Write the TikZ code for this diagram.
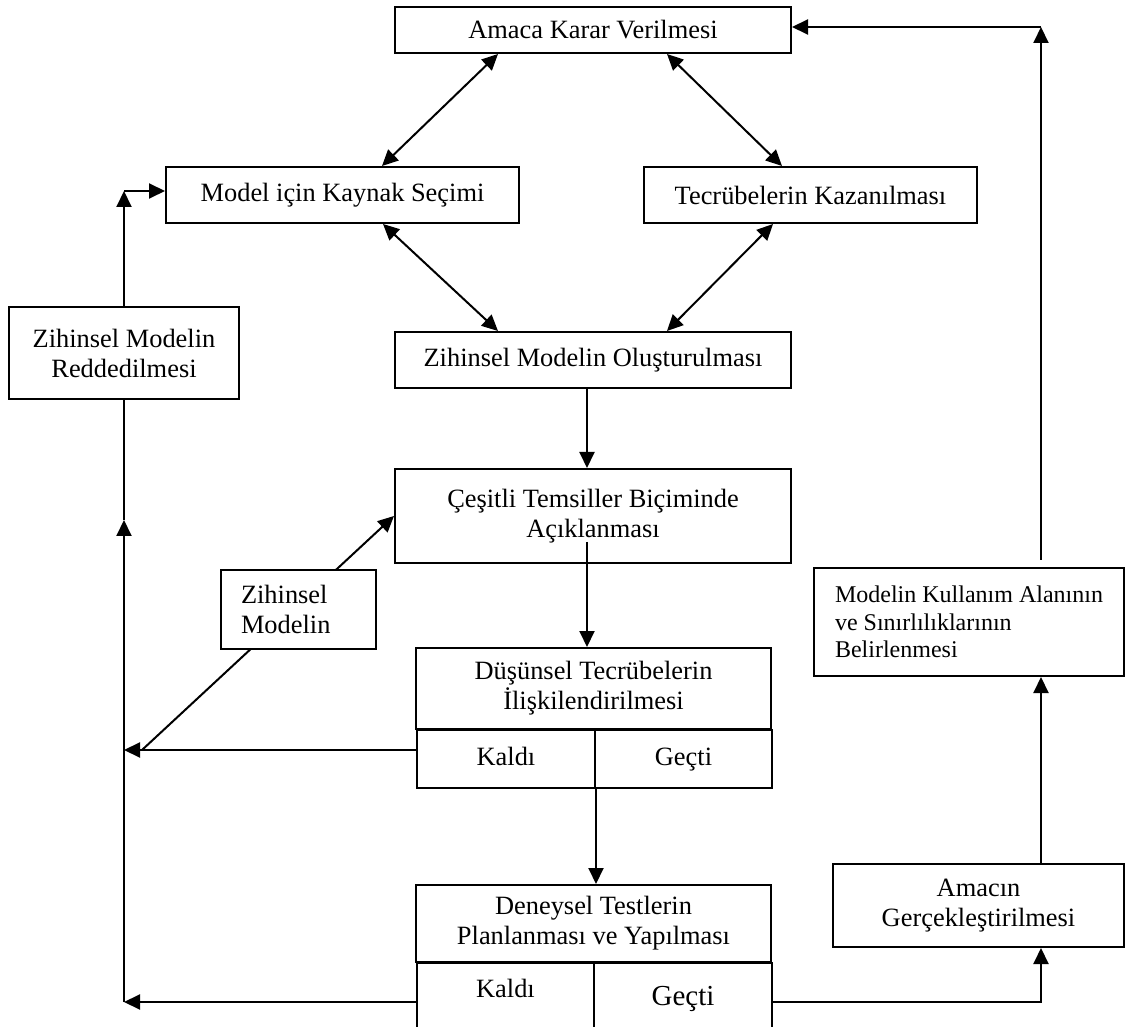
\documentclass[tikz,border=0pt]{standalone}
\usepackage{fontspec}
\setmainfont{Liberation Serif}
\usetikzlibrary{arrows.meta}

\begin{document}
\begin{tikzpicture}[>={Triangle[length=8pt,width=7.5pt]},x=0.5pt,y=-0.5pt,line width=1pt,
    kutu/.style={draw,fill=white,inner sep=0pt,align=center,font=\fontsize{13.2}{15}\selectfont},
    hucre/.style={kutu,anchor=north west}]
    % Çerçeve
    \useasboundingbox (0,0) rectangle (1126,1027);
    \fill[white] (0,0) rectangle (1126,1027);
    \clip (0,0) rectangle (1126,1027);
    % Üst kutular
    \node[kutu,minimum width=198pt,minimum height=23pt] (amaca) at (593,30) {Amaca Karar Verilmesi};
    \node[kutu,minimum width=176.5pt,minimum height=28pt] (kaynak) at (342.5,195) {Model için Kaynak Seçimi};
    \node[kutu,minimum width=166.5pt,minimum height=28pt] (tecrube) at (810.5,195) {Tecrübelerin Kazanılması};
    \node[kutu,minimum width=115pt,minimum height=46pt] (red) at (124,353) {Zihinsel Modelin\\Reddedilmesi};
    \node[kutu,minimum width=198pt,minimum height=28pt] (olustur) at (593,360) {Zihinsel Modelin Oluşturulması};
    \node[kutu,minimum width=198pt,minimum height=47pt] (cesitli) at (593,516) {Çeşitli Temsiller Biçiminde\\Açıklanması};
    % Test kutuları
    \node[kutu,minimum width=177.5pt,minimum height=40.5pt] (dusun) at (593.5,688.5) {Düşünsel Tecrübelerin\\İlişkilendirilmesi};
    \node[hucre,minimum width=89pt,minimum height=29pt,text height=9pt,text depth=3pt] (kaldi1) at (416,729) {Kaldı};
    \node[hucre,minimum width=88.5pt,minimum height=29pt,text height=9pt,text depth=3pt] (gecti1) at (594,729) {Geçti};
    \node[kutu,minimum width=177.5pt,minimum height=38.5pt] (deney) at (593.5,923.5) {Deneysel Testlerin\\Planlanması ve Yapılması};
    \node[hucre,minimum width=88.5pt,minimum height=40pt,text height=9pt,text depth=14.4pt] (kaldi2) at (416,962) {Kaldı};
    \node[hucre,minimum width=89pt,minimum height=40pt,text height=11pt,text depth=8.4pt,font=\fontsize{14.5}{16}\selectfont] (gecti2) at (593,962) {Geçti};
    % Sağ kutular
    \node[kutu,align=left,minimum width=155pt,minimum height=54pt,font=\fontsize{12}{13.75}\selectfont] (kullanim) at (969,622) {Modelin Kullanım Alanının\\ve Sınırlılıklarının\\Belirlenmesi};
    \node[kutu,minimum width=145.5pt,minimum height=41.5pt] (amacin) at (978.5,905.5) {Amacın\\Gerçekleştirilmesi};
    % Çift yönlü oklar
    \foreach \xa/\na/\xb/\nb in {498/amaca/382/kaynak, 667/amaca/782/tecrube, 383/kaynak/498/olustur, 773/tecrube/667/olustur}
    \draw[<->] (\xa,0 |- \na.south) -- (\xb,0 |- \nb.north);
    % Orta akış
    \coordinate (acikla) at (587,542);
    \draw[->] (587,0 |- olustur.south) -- (587,0 |- cesitli.north);
    \draw[->] (acikla) -- (acikla |- dusun.north);
    \draw[->] (kaldi1.south east) -- (kaldi1.south east |- deney.north);
    % Sol geri dönüş
    \coordinate (sol1) at (red.south |- 0,750);
    \coordinate (sol2) at (red.south |- 0,1002);
    \coordinate (solok) at (red.south |- 0,520);
    \coordinate (solust) at (red.north |- 0,191);
    \coordinate (capraz) at (142,750);
    \draw[->] (kaldi1.west |- sol1) -- (sol1);
    \draw[->] (kaldi2.west |- sol2) -- (sol2);
    \draw[->] (sol2) -- (solok);
    \draw (solok) -- (red.south);
    \draw[->] (red.north) -- (solust);
    \draw[->] (solust) -- (solust -| kaynak.west);
    \draw[->] (capraz) -- (cesitli.west);
    \node[kutu,align=left,inner xsep=10pt,text width=57.5pt,minimum height=39.5pt] (zm) at (298.5,609.5) {Zihinsel\\Modelin};
    % Sağ akış
    \coordinate (sag) at (1041,1002);
    \coordinate (sagust) at (1041,27);
    \draw[->] (gecti2.east |- sag) -- (sag) -- (sag |- amacin.south);
    \draw[->] (sag |- amacin.north) -- (sag |- kullanim.south);
    \draw[->,shorten <=3.5pt] (sag |- kullanim.north) -- (sagust);
    \draw[->] (sagust) -- (sagust -| amaca.east);
\end{tikzpicture}
\end{document}
